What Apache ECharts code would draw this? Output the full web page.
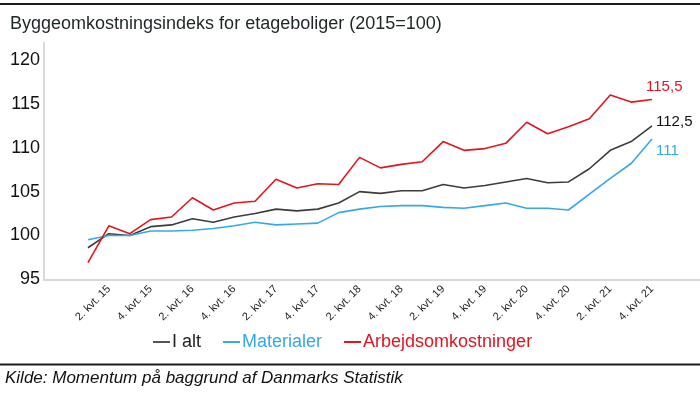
<!DOCTYPE html>
<html>
<head>
<meta charset="utf-8">
<script src="https://cdn.jsdelivr.net/npm/echarts@6/dist/echarts.min.js"></script>
<style>html,body{margin:0;padding:0;background:#fff;}#c{width:700px;height:394px;}</style>
</head>
<body>
<div id="c"></div>
<script>
const categories = [
  "1. kvt. 15","2. kvt. 15","3. kvt. 15","4. kvt. 15",
  "1. kvt. 16","2. kvt. 16","3. kvt. 16","4. kvt. 16",
  "1. kvt. 17","2. kvt. 17","3. kvt. 17","4. kvt. 17",
  "1. kvt. 18","2. kvt. 18","3. kvt. 18","4. kvt. 18",
  "1. kvt. 19","2. kvt. 19","3. kvt. 19","4. kvt. 19",
  "1. kvt. 20","2. kvt. 20","3. kvt. 20","4. kvt. 20",
  "1. kvt. 21","2. kvt. 21","3. kvt. 21","4. kvt. 21"
];
const iAlt = [98.6,100.2,100.0,101.0,101.2,101.9,101.5,102.1,102.5,103.0,102.8,103.0,103.7,105.0,104.8,105.1,105.1,105.8,105.4,105.7,106.1,106.5,106.0,106.1,107.6,109.7,110.7,112.5];
const materialer = [99.5,100.0,100.0,100.5,100.5,100.6,100.8,101.1,101.5,101.2,101.3,101.4,102.6,103.0,103.3,103.4,103.4,103.2,103.1,103.4,103.7,103.1,103.1,102.9,104.7,106.5,108.2,111.0];
const arbejdsomkostninger = [96.9,101.1,100.2,101.8,102.1,104.3,102.9,103.7,103.9,106.4,105.4,105.9,105.8,108.9,107.7,108.1,108.4,110.7,109.7,109.9,110.5,112.9,111.6,112.4,113.3,116.0,115.2,115.5];
const seriesNames = ["I alt","Materialer","Arbejdsomkostninger"];
const yTicks = [95,100,105,110,115,120];

const colors = ["#3c3c3c","#35a9e6","#e0161f"];
const legendColors = ["#555555","#35a9e6","#e0161f"];
const labelColors = ["#111111","#35a9e6","#e0161f"];
const labelOffsets = [[2,-4],[2,12],[-8,-13]];
const FONT = "Liberation Sans, Arial, sans-serif";

function fmt(v){ return String(v).replace('.', ','); }

const chart = echarts.init(document.getElementById('c'), null, {renderer:'canvas'});
const dataSets = [iAlt, materialer, arbejdsomkostninger];

const series = dataSets.map((d,k)=>({
  name: seriesNames[k],
  type: 'line',
  xAxisIndex: 0, yAxisIndex: 0,
  data: d,
  symbol: 'none',
  showSymbol: false,
  lineStyle: {color: colors[k], width: 1.6},
  itemStyle: {color: colors[k]},
  emphasis: {disabled: true},
  z: 3 + (k===2?1:0),
  endLabel: {
    show: true,
    distance: 2,
    offset: labelOffsets[k],
    color: labelColors[k],
    fontFamily: FONT,
    fontSize: 15,
    formatter: p => fmt(p.value)
  },
  animation: false
}));

chart.setOption({
  animation: false,
  backgroundColor: '#fff',
  textStyle: {fontFamily: FONT},
  title: {
    text: 'Byggeomkostningsindeks for etageboliger (2015=100)',
    left: 5, top: 10,
    textStyle: {fontFamily: FONT, fontSize: 18, fontWeight: 'normal', color: '#1c2626'}
  },
  legend: {
    data: seriesNames.map((n,k)=>({name:n, itemStyle:{color:legendColors[k]}, textStyle:{color: k===0?'#222':colors[k]}})),
    left: 148, top: 328,
    icon: 'rect',
    itemWidth: 17, itemHeight: 2,
    itemGap: 22,
    textStyle: {fontFamily: FONT, fontSize: 18, padding: [0,0,0,-3]}
  },
  grid: [
    {left: 77.5, right: 37.5, top: 60, bottom: 114.7},
    {left: 44, right: 0, top: 43, bottom: 114.7}
  ],
  xAxis: [
    {
      type: 'category', gridIndex: 0, data: categories, boundaryGap: true,
      axisLine: {show: false}, axisTick: {show: false},
      axisLabel: {
        interval: (i)=> i % 2 === 1,
        rotate: 45, fontSize: 11, color: '#222', fontFamily: FONT, margin: 8
      }
    },
    {
      type: 'value', gridIndex: 1, min: 0, max: 1,
      axisLine: {show: true, lineStyle: {color: '#d9d9d9', width: 2}},
      axisTick: {show: false}, axisLabel: {show: false}, splitLine: {show: false}
    }
  ],
  yAxis: [
    {
      type: 'value', gridIndex: 0, min: yTicks[0], max: yTicks[yTicks.length-1], interval: 5,
      offset: 33.5,
      axisLine: {show: false}, axisTick: {show: false}, splitLine: {show: false},
      axisLabel: {fontSize: 18, color: '#111', fontFamily: FONT, margin: 4}
    },
    {
      type: 'value', gridIndex: 1, min: 0, max: 1,
      axisLine: {show: true, lineStyle: {color: '#d9d9d9', width: 2}},
      axisTick: {show: false}, axisLabel: {show: false}, splitLine: {show: false}
    }
  ],
  graphic: [
    {type:'rect', shape:{x:0, y:3, width:700, height:2}, style:{fill:'#1a1a1a'}},
    {type:'rect', shape:{x:0, y:363.5, width:700, height:2}, style:{fill:'#1a1a1a'}},
    {type:'text', left: 5, top: 370, style:{text:'Kilde: Momentum på baggrund af Danmarks Statistik', font:'italic 17px Liberation Sans, Arial, sans-serif', fill:'#111'}}
  ],
  series: series
});
</script>
</body>
</html>
